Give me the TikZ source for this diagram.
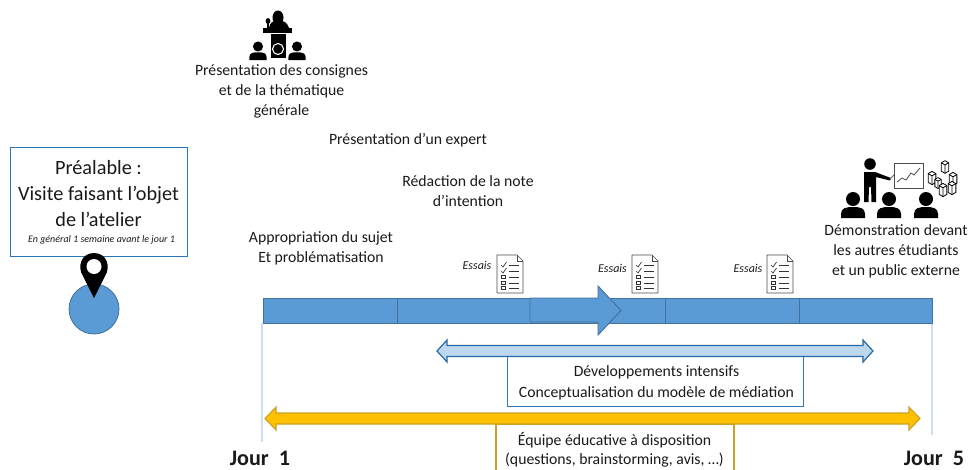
\documentclass[tikz,border=0pt]{standalone}
\usepackage{fontspec}
\setmainfont{Carlito}
\definecolor{barblue}{HTML}{5B9BD5}
\definecolor{bardark}{HTML}{41719C}
\definecolor{lightblue}{HTML}{BDD7EE}
\definecolor{boxblue}{HTML}{2E75B6}
\definecolor{gold}{HTML}{FFC000}
\definecolor{golddark}{HTML}{C9A227}
\definecolor{guide}{HTML}{CFE0F3}
\definecolor{txt}{HTML}{1A1A1A}
\tikzset{
  lbl/.style={align=center,text=txt,font=\fontsize{11.8}{15.2}\selectfont,inner sep=0pt},
  essai/.style={text=txt,font=\fontsize{9}{10}\selectfont\itshape,inner sep=0pt},
  jour/.style={text=txt,font=\fontsize{16.6}{18}\selectfont\bfseries,inner sep=0pt},
  barseg/.style={draw=bardark,fill=barblue,line width=0.7pt},
  pics/checklist/.style={code={
    \draw[draw=black!70,fill=white,line width=0.5pt,line join=round]
      (-13,-19) -- (7,-19) -- (13,-13) -- (13,19) -- (-13,19) -- cycle;
    \draw[draw=black!70,line width=0.5pt] (7,-19) -- (7,-13) -- (13,-13);
    \foreach \yy in {-9,-3}{
      \draw[black!80,line width=0.5pt] (-9,\yy) -- (-7,\yy+2) -- (-3.5,\yy-3);
      \draw[black!80,line width=0.5pt] (-1,\yy) -- (9,\yy);}
    \foreach \yy in {3,9,14}{
      \draw[black!80,line width=0.5pt] (-8.5,\yy-1.8) rectangle (-4.5,\yy+1.8);
      \draw[black!80,line width=0.5pt] (-1,\yy) -- (9,\yy);}
  }},
  pics/person/.style={code={
    \fill[black] (0,0) circle (7);
    \fill[black] (-12,19) -- (-12,15) .. controls (-12,9) and (-7,8) .. (0,8)
      .. controls (7,8) and (12,9) .. (12,15) -- (12,19) -- cycle;
  }},
  pics/cube/.style={code={
    \draw[black,fill=white,line width=0.6pt,line join=round]
      (-3.5,-4) -- (0,-6) -- (3.5,-4) -- (3.5,4) -- (0,6) -- (-3.5,4) -- cycle;
    \draw[black,line width=0.6pt] (-3.5,-4) -- (0,-2) -- (3.5,-4) (0,-2) -- (0,6);
  }}
}
\begin{document}
\begin{tikzpicture}[x=0.75pt,y=-0.75pt]
\useasboundingbox (0,0) rectangle (970,469);
\clip (0,0) rectangle (970,469);
\fill[white] (0,0) rectangle (970,469);

% lectern icon
\fill[black] (278,17.5) ellipse (5.5 and 7);
\fill[black] (269,28) .. controls (270,22) and (273,21) .. (278,20)
  .. controls (284,21) and (287,22) .. (289,28) -- cycle;
\fill[black] (263,28) rectangle (292,33);
\fill[black] (271,33.5) rectangle (286,58);
\draw[black,line width=1.2pt] (268,28) -- (268,22);
\fill[black] (268,21) ellipse (2.4 and 3);
\draw[white,line width=0.8pt] (278,49) circle (5.5);
\pic at (258,46.5) [scale=0.72] {person};
\pic at (297,46.5) [scale=0.72] {person};

% demonstration icon
\fill[black] (870,164) circle (5.8);
\fill[black] (864,172) -- (875,172) -- (891,178) -- (890,180.5) -- (876,177)
  -- (876,202) -- (871.5,202) -- (871,187) -- (869,187) -- (868.5,202) -- (864,202) -- cycle;
\draw[black!60,line width=0.6pt] (890,179) -- (897,172);
\draw[black!70,fill=white,line width=0.7pt] (894,163) rectangle (923,188);
\draw[black!70,line width=0.6pt] (897,182) -- (902,178) -- (906,180) -- (911,173) -- (914,175) -- (920,168);
\pic at (853,199) {person};
\pic at (889,199) {person};
\pic at (926,199) {person};
\pic at (945,167) [scale=1.05] {cube};
\pic at (932,178) [scale=1.1] {cube};
\pic at (953,179) [scale=1.1] {cube};
\pic at (938,183) [scale=0.9] {cube};
\pic at (952,188) [scale=1.1] {cube};
\pic at (943,190) [scale=1.1] {cube};

% top texts
\node[lbl] (consignes) at (281.5,91.5) {Présentation des consignes\\et de la thématique\\générale};
\node[lbl] (expert) at (408,140) {Présentation d’un expert};
\node[lbl] (note) at (468,191) {Rédaction de la note\\d’intention};
\node[lbl] (sujet) at (321,248.5) {Appropriation du sujet\\Et problématisation};
\node[lbl] (demo) at (896,251.5) {Démonstration devant\\les autres étudiants\\et un public externe};

% préalable
\draw[draw=boxblue,fill=white,line width=0.7pt] (10,147) rectangle (187,256);
\node[inner sep=0pt,align=center,text=txt,font=\fontsize{15.2}{19.5}\selectfont] (prealable) at (98.5,193.5)
  {Préalable :\\Visite faisant l’objet\\de l’atelier};
\node[inner sep=0pt,text=txt,font=\fontsize{7.5}{9}\selectfont\itshape] (general) at (101.5,240) {En général 1 semaine avant le jour 1};

% pin
\draw[draw=bardark,fill=barblue,line width=0.6pt] (94,309) circle (25);
\fill[black] (94,298) -- (83,276) .. controls (77,267) and (81,253) .. (94,253)
  .. controls (107,253) and (111,267) .. (105,276) -- cycle;
\fill[white] (94,266.5) circle (7.5);

% guides
\draw[guide,line width=0.8pt] (262,323) -- (262,442);
\draw[guide,line width=0.8pt] (932,323) -- (932,435);

% timeline
\draw[barseg] (263,298) rectangle (397,323);
\draw[barseg] (397,298) rectangle (531,323);
\draw[barseg] (531,298) rectangle (665,323);
\draw[barseg] (665,298) rectangle (799,323);
\draw[barseg] (799,298) rectangle (932,323);
\draw[barseg,line join=miter] (530,298) -- (598,298) -- (598,286) -- (621,310.5) -- (598,335) -- (598,322) -- (530,322) -- cycle;

% essais
\node[essai] (e1) at (477,265) {Essais};
\node[essai] (e2) at (612.5,268) {Essais};
\node[essai] (e3) at (748,268) {Essais};
\pic at (510,274) {checklist};
\pic at (645,274) {checklist};
\pic at (780,274) {checklist};

% blue double arrow and box
\draw[draw=boxblue,fill=white,line width=0.7pt] (507,356) rectangle (803,406);
\draw[draw=boxblue!90!black,fill=lightblue,line width=0.9pt,line join=miter]
  (437,351) -- (447,340) -- (447,345.5) -- (863,345.5) -- (863,340) -- (873,351) -- (863,362) -- (863,356.5) -- (447,356.5) -- (447,362) -- cycle;
\node[lbl,font=\fontsize{11.8}{15.6}\selectfont] (dev) at (656.5,382.5) {Développements intensifs\\Conceptualisation du modèle de médiation};

% yellow double arrow and box
\draw[draw=golddark,fill=white,line width=0.8pt] (496,424) rectangle (734,480);
\draw[draw=golddark,fill=gold,line width=0.8pt,line join=miter]
  (265,418.5) -- (276,407) -- (276,413) -- (909,413) -- (909,407) -- (920,418.5) -- (909,430) -- (909,424) -- (276,424) -- (276,430) -- cycle;
\node[lbl,font=\fontsize{11.8}{14.4}\selectfont] (equipe) at (614.5,450) {Équipe éducative à disposition\\(questions, brainstorming, avis, …)};

% days
\node[jour,anchor=base west] (j1) at (229.5,465) {Jour\ \ 1};
\node[jour,anchor=base west] (j5) at (903.5,465) {Jour\ \ 5};
\end{tikzpicture}
\end{document}
